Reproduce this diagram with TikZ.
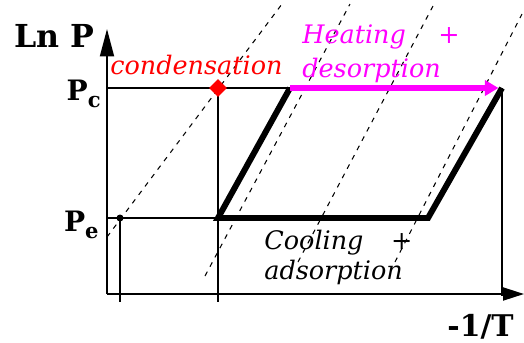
\documentclass[tikz,border=0pt]{standalone}
\usepackage{fontspec}
\setmainfont{DejaVu Serif}
\usepackage{tikz}
\usetikzlibrary{arrows.meta, shapes.geometric}
\definecolor{heatmag}{RGB}{255,0,255}
\definecolor{condred}{RGB}{255,0,0}

\begin{document}
\begin{tikzpicture}[x=0.02cm, y=-0.02cm,
    axis/.style={line width=1.1pt},
    guide/.style={line width=0.9pt},
    isostere/.style={line width=0.6pt, dash pattern=on 2.8pt off 3.2pt},
    cycle/.style={line width=3.4pt, line join=miter},
    lbl/.style={inner sep=0pt, anchor=base west},
]
    \useasboundingbox (0,0) rectangle (524,342);

    % axes
    \coordinate (O) at (107,294);
    \coordinate (ytop) at (107,29);
    \coordinate (xend) at (524,294);
    \draw[axis, -{Triangle[length=0.55cm, width=0.28cm]}] (O) -- (ytop);
    \draw[axis, -{Triangle[length=0.42cm, width=0.26cm]}] (O) -- (xend);

    % cycle corners
    \coordinate (A) at (218,218);
    \coordinate (B) at (290,88);
    \coordinate (C) at (502,88);
    \coordinate (D) at (428,218);
    \coordinate (E) at (120,218);

    % isosteres
    \draw[isostere] (107,237) -- (282,4);
    \draw[isostere] (205,276) -- (350,4);
    \draw[isostere] (298,262) -- (433,6);
    \draw[isostere] (395,262) -- (522,14);

    % guide lines
    \draw[guide] (107,88) -- (B);
    \draw[guide] (107,218) -- (A);
    \draw[guide] (E) -- (120,302);
    \draw[guide] (218,88) -- (218,302);
    \draw[guide] (C) -- (502,296);

    % cycle
    \draw[cycle] (B) -- (A) -- (D) -- (C);
    \draw[line width=2.9pt, heatmag, -{Triangle[length=0.27cm, width=0.3cm]}] (B) -- ([xshift=-2]C);

    \node[diamond, fill=condred, inner sep=0pt, minimum size=0.36cm] (cond) at (218,88) {};
    \node[circle, fill=black, inner sep=0pt, minimum size=0.14cm] (evap) at (E) {};

    % labels
    \node[lbl, font=\fontsize{18}{20}\selectfont\bfseries] (lnp) at (14,47) {Ln P};
    \node[lbl, anchor=base east, font=\fontsize{16}{18}\selectfont\bfseries] (pc) at (101,100) {P\raisebox{-4pt}{\fontsize{12}{12}\selectfont c}};
    \node[lbl, anchor=base east, font=\fontsize{16}{18}\selectfont\bfseries] (pe) at (99,231) {P\raisebox{-4pt}{\fontsize{12}{12}\selectfont e}};
    \node[lbl, font=\fontsize{17}{20}\selectfont\bfseries] (invt) at (447,336) {-1/T};
    \node[lbl, condred, font=\fontsize{14.5}{17}\selectfont\itshape] (condlbl) at (110,74) {condensation};
    \node[lbl, heatmag, align=left, font=\fontsize{14.5}{19.3}\selectfont\itshape] (heat) at (302,77) {Heating\hspace{0.65cm}+\\desorption};
    \node[lbl, align=left, font=\fontsize{14.5}{17}\selectfont\itshape] (cool) at (264,279) {Cooling\hspace{0.55cm}+\\adsorption};
\end{tikzpicture}
\end{document}
